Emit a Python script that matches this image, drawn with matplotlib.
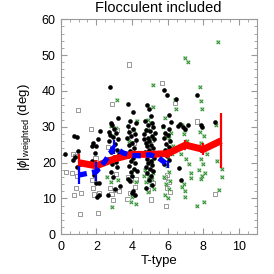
import matplotlib
matplotlib.use('Agg')
import matplotlib.pyplot as plt
from matplotlib.ticker import MultipleLocator

plt.rcParams['font.family'] = ['Liberation Sans', 'DejaVu Sans']
plt.rcParams['mathtext.fontset'] = 'custom'
plt.rcParams['mathtext.rm'] = 'Liberation Sans'
plt.rcParams['mathtext.it'] = 'Liberation Sans:italic'

# binned means (red) and finer running mean (blue)
red_x = [1, 2, 3, 4, 5, 6, 7, 8, 9]
red_y = [20.0, 19.1, 21.0, 22.3, 22.3, 22.5, 24.9, 23.7, 26.1]
red_err = [2.5, 1.5, 0.8, 0.7, 0.6, 1.2, 1.5, 1.7, 7.7]

blue_x = [1, 1.5, 2, 2.5, 3, 3.5, 4, 4.5, 5, 5.5, 6]
blue_y = [16.5, 17.0, 17.5, 20.5, 24.3, 22.7, 22.0, 21.9, 22.2, 21.3, 19.4]
blue_err = [2.6, 0, 2.6, 0, 1.9, 0, 0, 0, 0, 0, 1.0]

black_x = [0.26, 0.75, 0.93, 0.68, 0.9, 0.99, 0.82, 1.1,
           1.74, 1.85, 2.05, 2.0, 1.93, 2.2, 1.83, 1.78, 2.11, 1.99, 2.17, 2.05, 2.15,
           2.75, 3.22, 2.82, 2.9, 2.7, 3.0, 2.78, 3.1, 2.95, 3.2, 2.72, 3.05, 2.88, 3.15,
           2.85, 3.25, 3.0, 2.68, 3.12, 2.9, 3.18, 2.8, 3.3, 2.67, 3.05, 2.95,
           3.79, 4.08, 3.9, 4.2, 3.75, 4.05, 3.85, 4.15, 3.95, 3.7, 4.25, 4.0, 3.82, 4.12,
           3.9, 4.22, 3.76, 4.05, 3.95, 4.18, 3.85, 4.1, 3.92, 4.02, 3.88, 4.08, 3.98, 4.15,
           3.8, 4.3,
           4.83, 4.94, 5.05, 4.75, 5.12, 4.9, 5.2, 4.8, 5.02, 4.7, 5.15, 4.88, 5.25, 4.95,
           4.78, 5.08, 4.85, 5.18, 4.98, 4.72, 5.1, 4.92, 5.22, 4.82, 5.05, 4.9, 5.15, 4.76,
           5.0, 5.2, 4.86, 5.08, 4.95, 5.12, 4.8, 5.3, 4.65,
           5.82, 5.95, 6.05, 5.75, 6.1, 5.88, 6.0, 5.78, 6.15, 5.92, 6.05, 5.85, 6.12, 5.98,
           6.08, 5.8, 6.2,
           6.45, 6.7, 6.85, 6.95, 7.15, 6.65, 6.75, 6.6,
           7.67, 7.85, 7.95, 8.05, 7.9,
           8.66]
black_y = [22.3, 27.4, 27.1, 20.7, 18.7, 23.2, 21.5, 19.5,
           20.5, 16.6, 10.5, 14.2, 22.6, 28.8, 25.6, 24.5, 26.5, 24.7, 14.2, 18.2, 11.0,
           41.1, 32.4, 31.0, 30.6, 28.5, 29.5, 27.8, 28.2, 27.2, 26.5, 26.0, 25.3, 24.2, 23.5,
           23.0, 22.4, 21.6, 21.0, 20.3, 19.6, 18.8, 17.5, 13.5, 11.0, 12.5, 16.0,
           36.4, 34.1, 31.6, 31.0, 30.2, 29.5, 28.6, 28.0, 27.4, 26.8, 26.2, 25.5, 24.8, 24.0,
           23.3, 22.6, 21.9, 21.2, 20.5, 19.8, 19.0, 18.2, 17.3, 16.2, 14.8, 12.0, 11.4, 11.0,
           15.5, 17.8,
           36.0, 34.9, 33.0, 31.6, 31.1, 30.5, 30.0, 29.2, 28.7, 28.0, 27.5, 27.0, 26.6, 26.1,
           25.5, 25.0, 24.5, 24.0, 23.5, 23.0, 22.5, 22.0, 21.4, 21.0, 20.5, 19.9, 19.4, 18.9,
           18.3, 17.6, 17.0, 16.2, 15.2, 13.8, 13.0, 28.3, 26.5,
           40.2, 38.8, 33.3, 30.2, 29.3, 28.4, 27.6, 26.8, 26.0, 25.2, 24.4, 23.6, 22.8, 21.8,
           20.6, 19.5, 31.2,
           37.7, 30.7, 30.0, 29.4, 30.4, 18.6, 15.2, 30.2,
           38.9, 30.5, 30.0, 24.0, 23.5,
           31.2]

gray_x = [0.99, 1.68, 0.8, 0.65, 0.9, 0.84, 0.75, 1.12, 1.08, 0.3, 0.7,
          1.74, 1.83, 1.85, 2.13, 2.11, 1.95,
          2.86, 2.67, 3.15, 2.75, 3.05, 2.85, 3.25, 2.95, 3.1,
          3.83, 3.9, 4.1, 3.8, 4.2, 3.88, 4.05, 3.75, 4.15,
          5.7, 4.85, 5.1, 4.8, 4.95, 5.15, 4.88, 5.05,
          6.4, 5.85, 6.05, 5.95, 6.15, 5.9, 5.95,
          7.67, 8.66]
gray_y = [34.7, 29.5, 21.9, 17.0, 16.3, 12.9, 11.0, 11.6, 5.6, 17.3, 22.5,
          15.2, 12.8, 11.1, 11.4, 6.0, 21.3,
          36.4, 24.4, 29.2, 13.0, 12.3, 11.2, 12.0, 9.5, 16.8,
          47.4, 29.2, 25.5, 16.0, 15.3, 11.5, 11.0, 9.8, 13.2,
          42.3, 29.0, 26.2, 18.0, 15.0, 14.2, 12.2, 9.7,
          36.6, 16.0, 14.5, 13.0, 11.7, 8.0, 16.5,
          31.5, 11.2]

green_x = [3.14, 2.82, 2.9, 2.6, 2.8, 2.86, 3.2, 3.1,
           4.3, 4.1, 3.9, 4.2, 4.0, 3.95, 4.25, 3.85,
           5.2, 5.2, 4.9, 5.05, 4.85, 5.1, 4.75, 5.2, 4.95, 5.1, 4.8, 5.05, 5.25, 4.9, 5.15, 4.7,
           6.4, 6.45, 5.85, 5.76, 6.2, 5.9, 6.1, 6.25, 5.95, 6.05, 5.8, 6.15, 5.9, 6.1, 5.85,
           6.0, 6.3,
           7.0, 7.17, 6.8, 7.0, 6.9, 7.1, 6.85, 7.05, 7.3, 7.3, 6.9, 6.8, 7.0, 6.95, 7.2, 6.75,
           7.8, 7.88, 7.95, 7.8, 8.05, 7.9, 8.1, 7.85, 8.0, 7.75, 8.1, 7.95, 7.85, 8.04, 7.67,
           8.2,
           8.85, 8.7, 9.03, 8.9, 9.05, 8.75]
green_y = [37.5, 30.2, 27.5, 16.0, 14.5, 7.5, 15.2, 29.8,
           31.5, 29.0, 15.0, 14.5, 10.5, 9.0, 8.5, 26.0,
           41.7, 35.5, 32.0, 31.0, 29.2, 27.0, 18.0, 17.2, 16.4, 15.5, 14.6, 13.8, 12.6, 11.8,
           19.8, 16.2,
           37.4, 34.9, 32.5, 30.0, 28.2, 27.5, 26.8, 22.5, 19.0, 17.5, 16.0, 15.0, 14.0, 12.5,
           11.0, 10.2, 24.5,
           49.1, 48.1, 30.6, 29.0, 28.0, 26.1, 24.2, 21.0, 17.0, 15.6, 14.0, 13.1, 12.0, 10.5,
           19.5, 22.5,
           41.2, 37.2, 35.1, 28.6, 27.5, 25.5, 23.8, 21.0, 19.5, 18.0, 17.0, 16.2, 15.3, 9.1,
           7.9, 22.5,
           53.7, 30.6, 15.9, 12.4, 18.1, 20.5]

fig = plt.figure(figsize=(2.74, 2.74), dpi=100)
ax = fig.add_axes([0.2215, 0.145, 0.7155, 0.7845])

ax.scatter(gray_x, gray_y, marker='s', s=9, facecolors='none', edgecolors='#888888',
           linewidths=0.6, zorder=2)
ax.scatter(green_x, green_y, marker='s', s=11, color='#c8e4c8', linewidths=0, zorder=2)
ax.scatter(green_x, green_y, marker='x', s=6, color='#2f8f2f', linewidths=0.7, zorder=2)
ax.scatter(black_x, black_y, marker='o', s=11, color='black', linewidths=0, zorder=2)

ax.errorbar(red_x, red_y, yerr=red_err, fmt='none', ecolor='red', elinewidth=1.6,
            capsize=0, zorder=3)
ax.plot(red_x, red_y, color='red', lw=5, solid_capstyle='butt',
        solid_joinstyle='round', zorder=3)
ax.errorbar(blue_x, blue_y, yerr=blue_err, fmt='none', ecolor='blue', elinewidth=1.6,
            capsize=0, zorder=4)
ax.plot(blue_x, blue_y, color='blue', lw=3.8, ls=(0, (1.6, 1.0)), zorder=4)

ax.set_xlim(0, 11)
ax.set_ylim(0, 60)
ax.xaxis.set_major_locator(MultipleLocator(2))
ax.xaxis.set_minor_locator(MultipleLocator(0.5))
ax.yaxis.set_major_locator(MultipleLocator(10))
ax.yaxis.set_minor_locator(MultipleLocator(2))
ax.tick_params(which='both', direction='in', top=True, right=True, color='#999999',
               labelsize=9)
ax.tick_params(which='major', length=4, width=0.8)
ax.tick_params(which='minor', length=2, width=0.6)
ax.tick_params(axis='x', pad=5)
for sp in ax.spines.values():
    sp.set_color('#999999')
    sp.set_linewidth(0.8)

ax.set_title('Flocculent included', fontsize=10.5, pad=5)
ax.set_xlabel('T-type', fontsize=9.5, labelpad=1)
ax.set_ylabel(r'$|\phi|_{\mathrm{weighted}}$ (deg)', fontsize=9.5, labelpad=6)

fig.savefig('out.png', dpi=100)
